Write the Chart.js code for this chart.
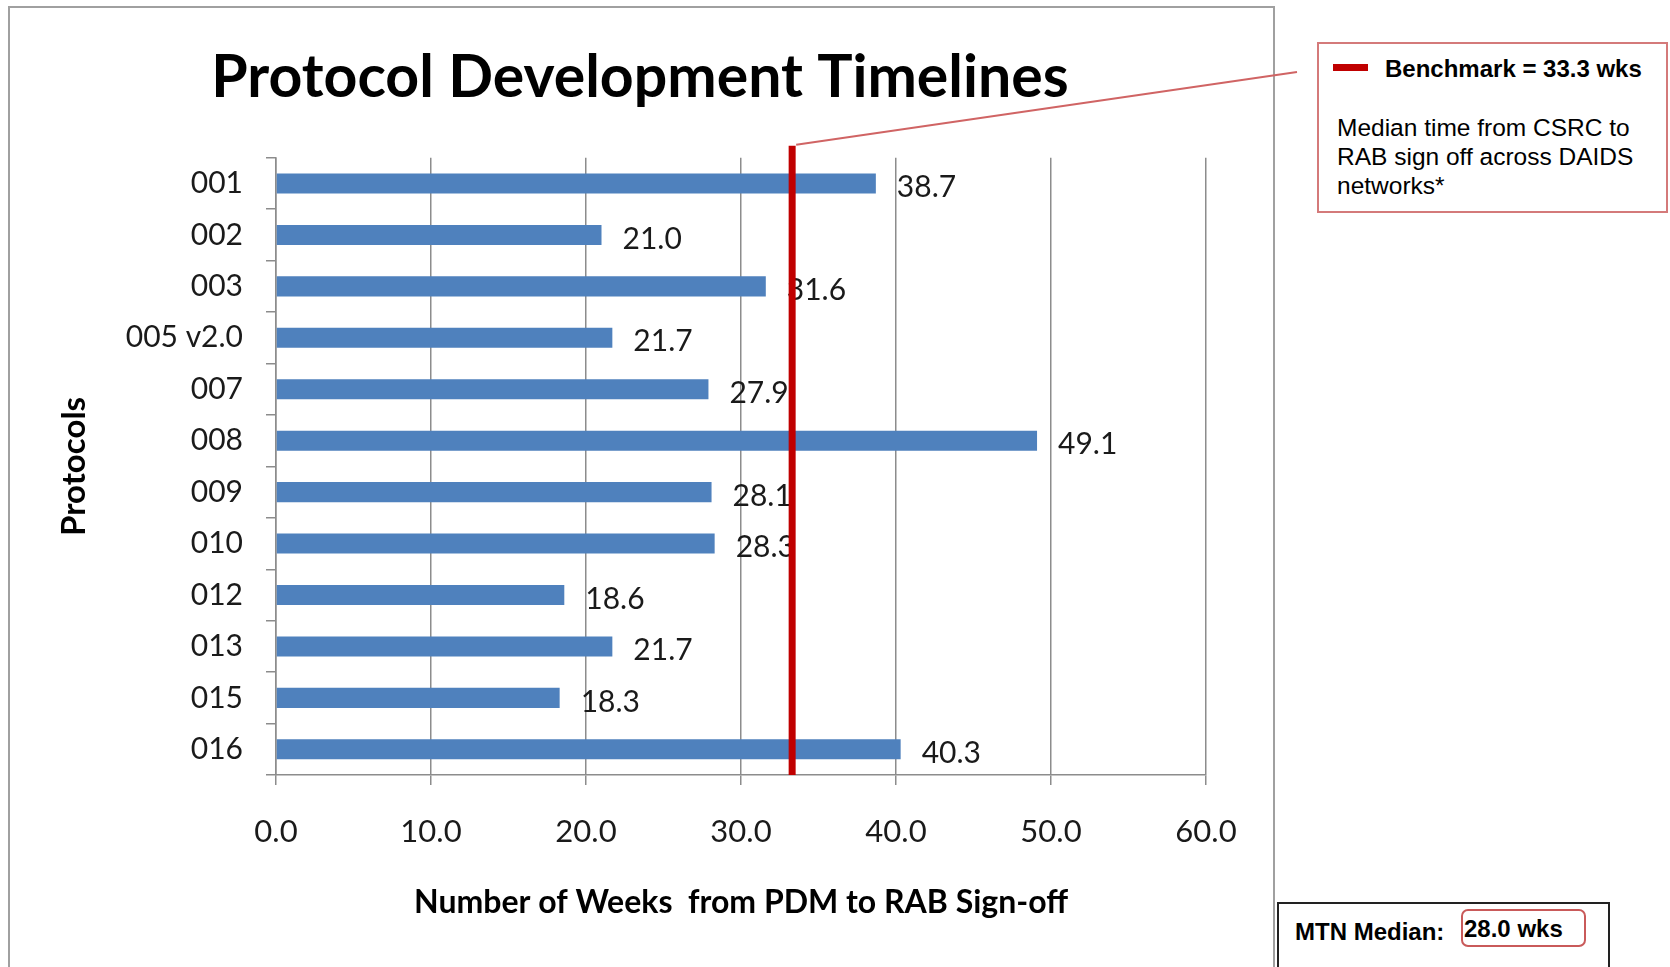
<!DOCTYPE html>
<html lang="en">
<head>
<meta charset="UTF-8">
<title>Protocol Development Timelines</title>
<style>
    body {
        margin: 0;
        width: 1670px;
        height: 967px;
        overflow: hidden;
        position: relative;
        background: #ffffff;
        font-family: "Liberation Sans", Arial, sans-serif;
    }

    #frame {
        position: absolute;
        left: 8px;
        top: 6px;
        width: 1263px;
        height: 1000px;
        border: 2px solid #a0a0a0;
    }

    #chart {
        position: absolute;
        left: 0;
        top: 0;
    }

    .legend {
        position: absolute;
        left: 1317px;
        top: 42px;
        width: 347px;
        height: 167px;
        border: 2px solid #d47a7a;
        background: #ffffff;
    }

    .legend .swatch {
        position: absolute;
        left: 14px;
        top: 20px;
        width: 35px;
        height: 7px;
        background: #c00000;
    }

    .legend .head {
        position: absolute;
        left: 66px;
        top: 11px;
        font-size: 24px;
        line-height: 28px;
        font-weight: bold;
        color: #000;
        white-space: nowrap;
    }

    .legend .body {
        position: absolute;
        left: 18px;
        top: 69px;
        font-size: 24.5px;
        line-height: 29px;
        color: #000;
    }

    .mtn {
        position: absolute;
        left: 1277px;
        top: 902px;
        width: 329px;
        height: 100px;
        border: 2px solid #222;
        background: #ffffff;
    }

    .mtn .label {
        position: absolute;
        left: 16px;
        top: 14px;
        font-size: 24px;
        line-height: 28px;
        font-weight: bold;
        white-space: nowrap;
    }

    .mtn .value {
        position: absolute;
        left: 182px;
        top: 5px;
        width: 120px;
        height: 34px;
        border: 2px solid #c95a5a;
        border-radius: 7px;
        font-size: 24px;
        line-height: 36px;
        font-weight: bold;
        padding-left: 1px;
        white-space: nowrap;
    }
</style>
</head>
<body>
    <div id="frame"></div>
    <canvas id="chart" width="1670" height="967"></canvas>

    <div class="legend">
        <div class="swatch"></div>
        <div class="head" id="benchText"></div>
        <div class="body">Median time from CSRC to<br>RAB sign off across DAIDS<br>networks*</div>
    </div>

    <div class="mtn">
        <div class="label">MTN Median:</div>
        <div class="value" id="mtnText"></div>
    </div>

    <script src="https://cdn.jsdelivr.net/npm/chart.js"></script>
    <script>
        // data
        const protocols = ['001', '002', '003', '005 v2.0', '007', '008', '009', '010', '012', '013', '015', '016'];
        const weeks = [38.7, 21.0, 31.6, 21.7, 27.9, 49.1, 28.1, 28.3, 18.6, 21.7, 18.3, 40.3];
        const xTicks = [0, 10, 20, 30, 40, 50, 60];
        const benchmark = 33.3;
        const mtnMedian = 28.0;

        document.getElementById('benchText').textContent = 'Benchmark = ' + benchmark.toFixed(1) + ' wks';
        document.getElementById('mtnText').textContent = mtnMedian.toFixed(1) + ' wks';

        const gridGray = '#8c8c8c';

        // value labels to the right of each bar
        const barLabels = {
            id: 'barLabels',
            afterDatasetsDraw(chart) {
                const ctx = chart.ctx;
                const meta = chart.getDatasetMeta(0);
                ctx.save();
                ctx.font = '30px Lato';
                ctx.fillStyle = '#1a1a1a';
                ctx.textAlign = 'left';
                ctx.textBaseline = 'middle';
                meta.data.forEach(function (bar, i) {
                    ctx.fillText(weeks[i].toFixed(1), bar.x + 21, bar.y + 4);
                });
                ctx.restore();
            }
        };

        // benchmark line plus the leader to the note box
        const benchmarkLine = {
            id: 'benchmarkLine',
            afterDraw(chart) {
                const ctx = chart.ctx;
                const area = chart.chartArea;
                const x = chart.scales.x.getPixelForValue(benchmark);
                const top = area.top - 12;
                ctx.save();
                ctx.strokeStyle = '#c00000';
                ctx.lineWidth = 7;
                ctx.beginPath();
                ctx.moveTo(x, top);
                ctx.lineTo(x, area.bottom);
                ctx.stroke();

                ctx.strokeStyle = '#d06464';
                ctx.lineWidth = 2;
                ctx.beginPath();
                ctx.moveTo(x + 4, top - 1);
                ctx.lineTo(1297, 72);
                ctx.stroke();
                ctx.restore();
            }
        };

        new Chart(document.getElementById('chart'), {
            type: 'bar',
            data: {
                labels: protocols,
                datasets: [{
                    label: 'Weeks',
                    data: weeks,
                    backgroundColor: '#4f81bd',
                    barPercentage: 0.39,
                    categoryPercentage: 1
                }]
            },
            options: {
                indexAxis: 'y',
                responsive: false,
                animation: false,
                layout: {
                    padding: { left: 74, right: 464, top: 0, bottom: 0 }
                },
                plugins: {
                    legend: { display: false },
                    tooltip: { enabled: false },
                    title: {
                        display: true,
                        text: 'Protocol Development Timelines',
                        font: { family: 'Lato', size: 59, weight: 'bold' },
                        color: '#000',
                        padding: { top: 43, bottom: 44 }
                    }
                },
                scales: {
                    x: {
                        min: xTicks[0],
                        max: xTicks[xTicks.length - 1],
                        ticks: {
                            stepSize: xTicks[1] - xTicks[0],
                            callback: v => Number(v).toFixed(1),
                            font: { family: 'Lato', size: 31 },
                            color: '#1a1a1a',
                            padding: 28
                        },
                        grid: { color: gridGray, lineWidth: 1.5, tickLength: 10 },
                        border: { color: gridGray, width: 1.5 },
                        title: {
                            display: true,
                            text: 'Number of Weeks  from PDM to RAB Sign-off',
                            font: { family: 'Lato', size: 32, weight: 'bold' },
                            color: '#000',
                            padding: { top: 0, bottom: 45 }
                        },
                        afterFit: s => { s.height = 192; }
                    },
                    y: {
                        grid: { drawOnChartArea: false, color: gridGray, lineWidth: 1.5, tickLength: 10 },
                        border: { color: gridGray, width: 1.5 },
                        ticks: {
                            font: { family: 'Lato', size: 30 },
                            color: '#1a1a1a',
                            padding: 23
                        },
                        title: {
                            display: true,
                            text: 'Protocols',
                            font: { family: 'Lato', size: 33, weight: 'bold' },
                            color: '#000',
                            padding: { top: -19, bottom: 0 }
                        },
                        afterFit: s => { s.width = 202; }
                    }
                }
            },
            plugins: [barLabels, benchmarkLine]
        });
    </script>
</body>
</html>
